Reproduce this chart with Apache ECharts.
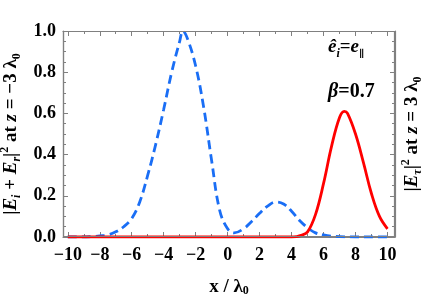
<!DOCTYPE html>
<html><head><meta charset="utf-8">
<script src="https://cdn.jsdelivr.net/npm/echarts@6/dist/echarts.min.js"></script>
<style>html,body{margin:0;padding:0;background:#fff}#c{width:429px;height:298px}</style>
</head><body><div id="c"></div>
<script>
var blueX = [-10,-9,-8.5,-8,-7.5,-7,-6.5,-6,-5.5,-5,-4.5,-4,-3.5,-3,-2.8,-2.5,-2,-1.5,-1,-0.5,0,0.4,1,1.5,2,2.5,3,3.5,4,4.5,5,5.5,6,6.5,7,8,9,10];
var blueY = [0,0,0.002,0.005,0.01,0.025,0.05,0.09,0.17,0.30,0.45,0.62,0.80,0.95,1.0,0.96,0.83,0.63,0.37,0.13,0.04,0.02,0.04,0.075,0.115,0.15,0.17,0.16,0.125,0.08,0.045,0.02,0.01,0.004,0.002,0,0,0];
var redX = [-10,-6,-2,2,4,4.3,4.6,5,5.5,6,6.5,7,7.3,7.5,8,8.5,9,9.5,10];
var redY = [0,0,0,0,0,0.002,0.008,0.025,0.11,0.26,0.44,0.58,0.61,0.60,0.50,0.36,0.21,0.10,0.04];
var xMajor = [-10,-8,-6,-4,-2,0,2,4,6,8,10];
var xMinor = [-10,-9,-8,-7,-6,-5,-4,-3,-2,-1,0,1,2,3,4,5,6,7,8,9,10];

var F = '"Liberation Serif","DejaVu Serif",serif';
var GRAY = '#808080';
function pair(xs, ys){ return xs.map(function(x,i){return [x, ys[i]];}); }
var XMIN = -10.3, XMAX = 10.47;
var G = {left:63, right:34, top:31, bottom:61};
function xAx(pos, ticks, len, labels, line){
  return {type:'value', position:pos, min:XMIN, max:XMAX,
    axisLine:{show:line, onZero:false, lineStyle:{color:GRAY, width:1.2}},
    axisTick:{show:true, inside:true, length:len, customValues:ticks, lineStyle:{color:GRAY, width:1}},
    axisLabel:{show:labels, customValues:xMajor, margin:9, color:'#000', fontFamily:F, fontWeight:'bold', fontSize:18,
      formatter:function(v){return String(v).replace('-','\u2212');}},
    splitLine:{show:false}};
}
function yAx(pos, labels, extra){
  return Object.assign({type:'value', position:pos, min:0, max:1, interval:0.2,
     axisLine:{show:true, onZero:false, lineStyle:{color:GRAY, width:1.2}},
     axisTick:{show:true, inside:true, length:5, lineStyle:{color:GRAY, width:1}},
     minorTick:{show:true, splitNumber:4, length:3, lineStyle:{color:GRAY, width:1}},
     axisLabel:{show:labels, margin:7, color:'#000', fontFamily:F, fontWeight:'bold', fontSize:18, formatter:function(v){return v.toFixed(1);}},
     splitLine:{show:false}, minorSplitLine:{show:false}}, extra);
}
var sub = {fontFamily:F, fontWeight:'bold', fontSize:12, lineHeight:12, verticalAlign:'bottom'};
var subIt = Object.assign({}, sub, {fontStyle:'italic'});
var sup = {fontFamily:F, fontWeight:'bold', fontSize:12, lineHeight:12, verticalAlign:'top'};
var nrm = {fontFamily:F, fontWeight:'bold', fontSize:19, lineHeight:24};
var it = Object.assign({}, nrm, {fontStyle:'italic'});
var rich = {n:nrm, it:it, sub:sub, subIt:subIt, sup:sup};

var W = 429, H = 298;
var chart = echarts.init(document.getElementById('c'), null, {renderer:'canvas'});
chart.setOption({
  animation:false,
  grid:{left:G.left, right:G.right, top:G.top, bottom:G.bottom, containLabel:false, outerBoundsMode:'none'},
  xAxis:[
    Object.assign(xAx('bottom', xMajor, 5, true, true), {name:'x / λ{sub|0}', nameLocation:'middle', nameGap:41,
      nameTextStyle:{color:'#000', fontFamily:F, fontWeight:'bold', fontSize:19, rich:{sub:{fontFamily:F,fontWeight:'bold',fontSize:12,lineHeight:12,verticalAlign:'bottom'}}}}),
    xAx('bottom', xMinor, 3, false, false),
    xAx('top', xMajor, 5, false, true),
    xAx('top', xMinor, 3, false, false)
  ],
  yAxis:[
    yAx('left', true, {
     name:'{n||}{it|E}{subIt|i}{n| + }{it|E}{subIt|r}{n||}{sup|2}{n| at }{it|z}{n| = \u22123 λ}{sub|0}',
     nameLocation:'middle', nameRotate:90, nameGap:38,
     nameTextStyle:{color:'#000', rich:rich}}),
    yAx('right', false, {
     name:'{n||}{it|E}{subIt|τ}{n||}{sup|2}{n| at }{it|z}{n| = 3 λ}{sub|0}',
     nameLocation:'middle', nameRotate:90, nameGap:5,
     nameTextStyle:{color:'#000', rich:rich}})
  ],
  graphic:[
    {type:'rect', z:50, silent:true,
     shape:{x:G.left+0.5, y:G.top+0.5, width:W-G.left-G.right-1, height:H-G.top-G.bottom-1},
     style:{fill:null, stroke:GRAY, lineWidth:1.2}},
    {type:'text', left:328, top:38, style:{text:'{it|ê}{subIt|i}{n|=}{it|e}{s2|∥}', rich:{it:Object.assign({},it,{fontSize:19}), n:Object.assign({},nrm,{fontSize:19}), subIt:subIt, s2:Object.assign({},sub,{fontSize:10})}}},
    {type:'text', left:328, top:82, style:{text:'{it|β}{n|=0.7}', rich:{it:Object.assign({},it,{fontSize:20}), n:Object.assign({},nrm,{fontSize:20})}}}
  ],
  series:[
    {type:'line', xAxisIndex:0, yAxisIndex:0, data:pair(blueX, blueY), smooth:0.4, showSymbol:false,
     lineStyle:{color:'#1a6ef5', width:2.8, type:[9,5]}},
    {type:'line', xAxisIndex:0, yAxisIndex:0, data:pair(redX, redY), smooth:0.4, showSymbol:false,
     lineStyle:{color:'#ff0000', width:2.8}}
  ]
});
</script></body></html>
